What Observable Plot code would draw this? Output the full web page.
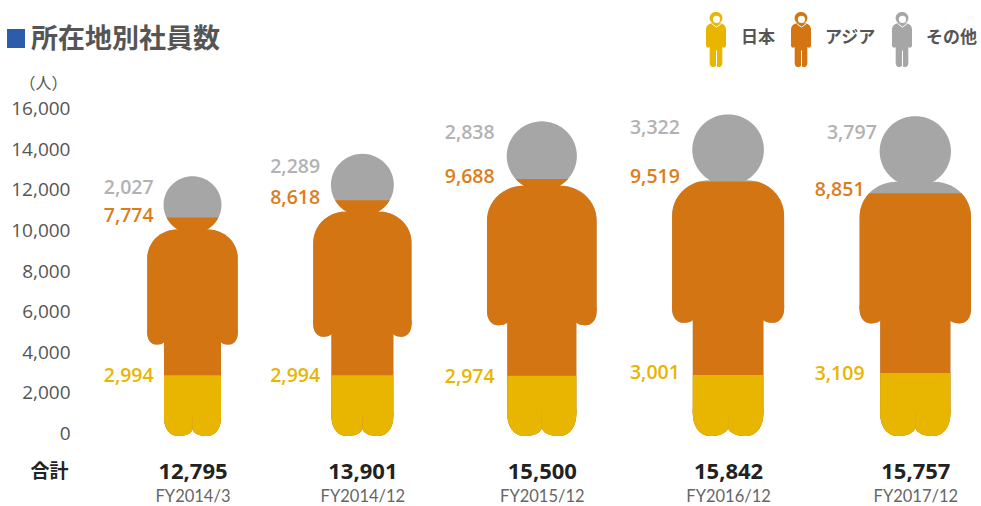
<!DOCTYPE html>
<html lang="ja">
<head>
<meta charset="utf-8">
<title>所在地別社員数</title>
<script src="https://cdn.jsdelivr.net/npm/d3@7"></script>
<script src="https://cdn.jsdelivr.net/npm/@observablehq/plot@0.6"></script>
<style>
  html, body { margin: 0; padding: 0; background: #fff; }
  body { width: 981px; font-family: "Open Sans", "Noto Sans CJK JP", sans-serif; }
  header { position: relative; height: 70px; }
  #mark { position: absolute; left: 7px; top: 29px; width: 18px; height: 19px; background: #2d5cab; }
  h1 { position: absolute; left: 31px; top: 17px; margin: 0; font: 700 27px/40px "Noto Sans CJK JP", sans-serif; color: #555; white-space: nowrap; }
  .swatch { position: absolute; top: 8px; }
  .swatch svg { display: block; }
  .key { position: absolute; top: 24px; font: 700 17px/24px "Noto Sans CJK JP", sans-serif; color: #555; white-space: nowrap; }
  #chart svg { display: block; }
</style>
</head>
<body>
<header>
  <div id="mark"></div>
  <h1>所在地別社員数</h1>
  <div id="legend"></div>
</header>
<div id="chart"></div>
<script>
// Employees by region at each fiscal period end
const periods = ["FY2014/3", "FY2014/12", "FY2015/12", "FY2016/12", "FY2017/12"];
const japan = [2994, 2994, 2974, 3001, 3109];
const asia = [7774, 8618, 9688, 9519, 8851];
const other = [2027, 2289, 2838, 3322, 3797];
const yTicks = [0, 2000, 4000, 6000, 8000, 10000, 12000, 14000, 16000];
const regionNames = ["日本", "アジア", "その他"];

const totals = periods.map((_, i) => japan[i] + asia[i] + other[i]);

const regionColors = {"日本": "#e8b500", "アジア": "#d37513", "その他": "#a6a6a6"};
const labelColors = {"日本": "#e8b500", "アジア": "#dc7d1a", "その他": "#b2b2b2"};

// Figures scale with their total: width follows the headcount, and figures sit a fixed gap apart
const widthPerEmployee = 0.00707;
const figureGap = 75.5;
const firstCenter = 192.5;
const figureWidths = totals.map((t) => t * widthPerEmployee);
const figureCenters = [];
figureWidths.forEach((w, i) => {
  figureCenters.push(i === 0 ? firstCenter
    : figureCenters[i - 1] + figureWidths[i - 1] / 2 + figureGap + w / 2);
});

// Where each value label sits: lift from its band edge in employees, inset as a share of the width
const japanLift = [0, 0, -50, 150, 0];
const asiaLift = [100, 150, 150, 300, 200];
const otherDrop = [550, 600, 550, 650, 800];
const labelInset = [0.435, 0.435, 0.435, 0.435, 0.46];
const otherInset = [0.435, 0.435, 0.435, 0.435, 0.35];

// Silhouette pieces in unit space: u across the width (-0.5..0.5), v up the height (0..1)
const corner = (v, r) => (v >= r ? 1 : (1 - ((r - v) / r) ** 2.15) ** (1 / 2.15));
const lobe = (c, hw, base, outer, inner) => {
  const rl = c < 0 ? outer : inner;
  const rr = c < 0 ? inner : outer;
  return {
    lo: base,
    hi: base + Math.max(outer, inner) + 0.012,
    left: (v) => c - hw * corner(v - base, rl),
    right: (v) => c + hw * corner(v - base, rr)
  };
};
const HEAD_V = 0.89, HEAD_RV = 0.11, HEAD_RU = 0.32;
const BODY_TOP = 0.795, ARM_END = 0.352, ARM_LOBE = 0.045;
const SHOULDER_RV = 0.11, SHOULDER_RU = 0.33;
const TORSO = 0.315, LEG_LOBE = 0.072;
const armHalf = (0.5 - TORSO + 0.02) / 2;
const shoulder = (v) => {
  const t = (v - (BODY_TOP - SHOULDER_RV)) / SHOULDER_RV;
  return t <= 0 ? 0.5 : 0.5 - SHOULDER_RU * (1 - Math.sqrt(Math.max(0, 1 - t * t)));
};
const parts = [
  {lo: HEAD_V - HEAD_RV, hi: HEAD_V + HEAD_RV,
    left: (v) => -HEAD_RU * Math.sqrt(Math.max(0, 1 - ((v - HEAD_V) / HEAD_RV) ** 2)),
    right: (v) => HEAD_RU * Math.sqrt(Math.max(0, 1 - ((v - HEAD_V) / HEAD_RV) ** 2))},
  {lo: ARM_END + ARM_LOBE, hi: BODY_TOP, left: (v) => -shoulder(v), right: (v) => shoulder(v)},
  {lo: LEG_LOBE, hi: ARM_END + ARM_LOBE + 0.012, left: () => -TORSO, right: () => TORSO},
  lobe(-0.5 + armHalf, armHalf, ARM_END, ARM_LOBE, ARM_LOBE * 0.5),
  lobe(0.5 - armHalf, armHalf, ARM_END, ARM_LOBE, ARM_LOBE * 0.5),
  lobe(-TORSO / 2, TORSO / 2, 0, LEG_LOBE, 0.03),
  lobe(TORSO / 2, TORSO / 2, 0, LEG_LOBE, 0.03)
];

// One polygon strip per piece, cut off at the height `ceil` (0..1)
function figureRows(key, region, ceil, toRow) {
  const rows = [];
  parts.forEach((p, pi) => {
    if (ceil <= p.lo) return;
    const top = Math.min(ceil, p.hi);
    const n = 36;
    for (let k = 0; k <= n; ++k) {
      const v = p.lo + (top - p.lo) * (1 - Math.cos(Math.PI * k / n)) / 2;
      rows.push(toRow({id: `${key}-${region}-${pi}`, region, v, left: p.left(v), right: p.right(v)}));
    }
  });
  return rows;
}

// Gray first, then orange and gold over it, so the bands meet without a seam
const figureData = periods.flatMap((_, i) => {
  const t = totals[i];
  const place = (r) => ({
    id: r.id,
    region: r.region,
    y: r.v * t,
    x1: figureCenters[i] + r.left * figureWidths[i],
    x2: figureCenters[i] + r.right * figureWidths[i]
  });
  return [
    ...figureRows(i, "その他", 1, place),
    ...figureRows(i, "アジア", (japan[i] + asia[i]) / t, place),
    ...figureRows(i, "日本", japan[i] / t, place)
  ];
});

const valueLabels = periods.flatMap((_, i) => {
  const x = figureCenters[i] - figureWidths[i] * labelInset[i];
  return [
    {region: "日本", value: japan[i], x, y: japan[i] + japanLift[i]},
    {region: "アジア", value: asia[i], x, y: japan[i] + asia[i] + asiaLift[i]},
    {region: "その他", value: other[i], x: figureCenters[i] - figureWidths[i] * otherInset[i], y: totals[i] - otherDrop[i]}
  ];
});

const fmt = d3.format(",");
const sans = '"Open Sans", "Noto Sans CJK JP", sans-serif';

const chart = Plot.plot({
  width: 981,
  height: 436,
  marginLeft: 70,
  marginRight: 0,
  marginTop: 41.2,
  marginBottom: 70,
  style: {fontFamily: sans, background: "#fff", overflow: "visible"},
  x: {domain: [70, 981], axis: null},
  y: {domain: [0, 16000], axis: null},
  color: {domain: regionNames, range: regionNames.map((r) => regionColors[r]), legend: false},
  marks: [
    Plot.axisY(yTicks, {
      anchor: "left",
      tickSize: 0,
      tickPadding: 0,
      tickFormat: fmt,
      label: null,
      fontSize: 19,
      fill: "#555",
      dy: -2.5
    }),
    Plot.text(["（人）"], {
      x: 43,
      frameAnchor: "top",
      dy: -28,
      text: (d) => d,
      fontSize: 16,
      fill: "#555",
      lineAnchor: "middle"
    }),
    Plot.areaX(figureData, {
      x1: "x1",
      x2: "x2",
      y: "y",
      z: "id",
      fill: "region"
    }),
    ...regionNames.map((r) => Plot.text(valueLabels.filter((d) => d.region === r), {
      x: "x",
      y: "y",
      text: (d) => fmt(d.value),
      textAnchor: "end",
      lineAnchor: "middle",
      fontSize: 19.5,
      fontWeight: 600,
      fill: labelColors[r]
    })),
    Plot.text(["合計"], {
      x: 68,
      frameAnchor: "bottom",
      dy: 35,
      text: (d) => d,
      textAnchor: "end",
      lineAnchor: "middle",
      fontSize: 19,
      fontWeight: 700,
      fill: "#222"
    }),
    Plot.text(totals, {
      x: (_, i) => figureCenters[i],
      frameAnchor: "bottom",
      dy: 35,
      text: (d) => fmt(d),
      lineAnchor: "middle",
      fontSize: 22,
      fontWeight: 700,
      fill: "#222"
    }),
    Plot.text(periods, {
      x: (_, i) => figureCenters[i],
      frameAnchor: "bottom",
      dy: 60.5,
      text: (d) => d,
      lineAnchor: "middle",
      fontFamily: "Lato",
      fontSize: 16.5,
      fill: "#666"
    })
  ]
});
document.getElementById("chart").append(chart);

// Legend: a small figure beside each region name
const legend = document.getElementById("legend");
const keyPlacement = [[716, 741], [801, 825], [902, 926]];
regionNames.forEach((name, i) => {
  const rows = figureRows("key", name, 1, (r) => ({id: r.id, y: r.v, x1: r.left, x2: r.right}));
  const swatch = Plot.plot({
    width: 24,
    height: 60,
    margin: 0,
    marginTop: 4,
    marginBottom: 1,
    style: {background: "transparent"},
    x: {domain: [-0.6, 0.6], axis: null},
    y: {domain: [0, 1], axis: null},
    marks: [
      Plot.areaX(rows, {x1: "x1", x2: "x2", y: "y", z: "id", fill: regionColors[name]}),
      Plot.dot([0], {x: 0, y: HEAD_V - 0.015, r: 3.6, fill: "#fff"}),
      Plot.line([[-0.2, BODY_TOP - 0.01], [0, BODY_TOP - 0.06], [0.2, BODY_TOP - 0.01]], {
        x: (d) => d[0], y: (d) => d[1], stroke: "#fff", strokeWidth: 1
      }),
      Plot.ruleX([0], {y1: 0, y2: 0.3, stroke: "#fff", strokeWidth: 1})
    ]
  });
  const box = document.createElement("div");
  box.className = "swatch";
  box.style.left = `${keyPlacement[i][0] - 12}px`;
  box.append(swatch);
  legend.append(box);
  const key = document.createElement("div");
  key.className = "key";
  key.style.left = `${keyPlacement[i][1]}px`;
  key.textContent = name;
  legend.append(key);
});
</script>
</body>
</html>
